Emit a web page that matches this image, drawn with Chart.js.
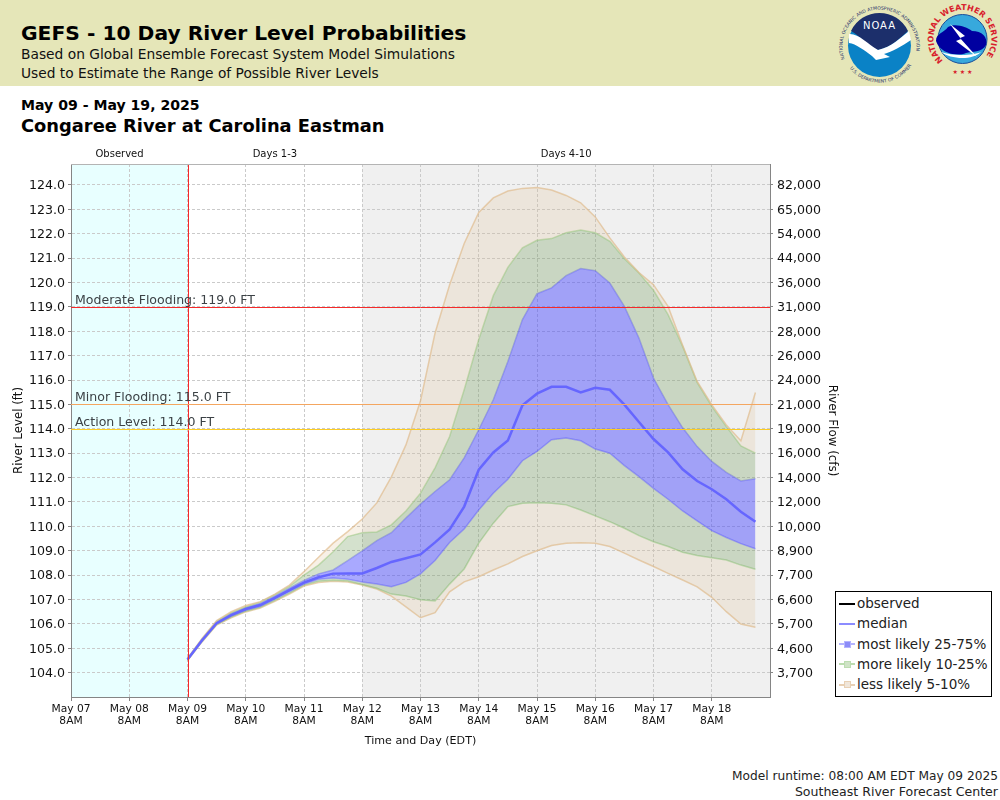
<!DOCTYPE html>
<html lang="en">
<head>
<meta charset="UTF-8">
<title>GEFS River Level Probabilities</title>
<script src="https://cdn.jsdelivr.net/npm/chart.js"></script>
<style>
    html, body { margin: 0; padding: 0; background: #fff; font-family: "DejaVu Sans", sans-serif; color: #000; }
    body { width: 1000px; height: 800px; position: relative; overflow: hidden; }
    #banner { position: absolute; left: 0; top: 0; width: 1000px; height: 86px; background: #e5e6b8; }
    #logos { position: absolute; left: 0; top: 0; }
    .txt { position: absolute; white-space: nowrap; line-height: 20px; }
    #chart { position: absolute; left: 0; top: 0; }
    #legend { position: absolute; left: 835px; top: 591px; width: 155px; height: 103px; border: 1px solid #000; background: #fff; padding-top: 1px; }
    .row { height: 20.3px; line-height: 20.3px; font-size: 13.5px; color: #222; white-space: nowrap; position: relative; padding-left: 21px; }
    .row i { position: absolute; left: 3px; top: 9.5px; width: 16px; height: 2px; }
    .row b { position: absolute; left: 7.5px; top: 7px; width: 5px; height: 5px; border: 1px solid; }
</style>
</head>
<body>
<div id="banner"></div>
<svg id="logos" width="1000" height="86">
    <defs>
        <path id="noaaRing" d="M 845 60 A 37 37 0 1 1 914 60"/>
        <path id="noaaRingLow" d="M 848 66 A 38 38 0 0 0 911 66"/>
        <path id="nwsRing" d="M 943.9 61.2 A 29 29 0 1 1 981.1 61.2"/>
    </defs>
    <circle cx="879.5" cy="45.5" r="31.5" fill="#0a82c6"/>
    <path d="M 851 31 A 31.5 31.5 0 0 1 908 31 C 900 38 892 47 878 50 C 868 46 860 36 851 31 Z" fill="#1c2f6b"/>
    <path d="M 849 34 C 858 33 868 44 878 50 C 892 47 900 38 909 31 L 911 40 C 902 46 892 52 884 54 L 890 57 L 876 60 L 872 56 C 864 50 856 44 849 43 Z" fill="#fff"/>
    <text x="879.5" y="29" font-size="10" fill="#fff" text-anchor="middle" letter-spacing="1">NOAA</text>
    <text font-size="4.6" fill="#25306a"><textPath href="#noaaRing" startOffset="1">NATIONAL OCEANIC AND ATMOSPHERIC ADMINISTRATION</textPath></text>
    <text font-size="4.6" fill="#25306a"><textPath href="#noaaRingLow" startOffset="3">U.S. DEPARTMENT OF COMMERCE</textPath></text>
    <circle cx="962.5" cy="39" r="24.5" fill="#37a9dc" stroke="#1c4f9a" stroke-width="1"/>
    <path d="M 936 41 C 936 33 944 33 948 27 C 956 23 966 27 972 31 C 982 31 988 37 986 45 C 982 53 972 51 966 53 C 956 57 940 53 936 41 Z" fill="#0000a0"/>
    <path d="M 941 52 C 950 59 972 61 981 52 C 972 56 952 56 941 52 Z" fill="#fff"/>
    <path d="M 950 24 L 965 36 L 960 38 L 977 57 L 956 41 L 961 39 Z" fill="#fff"/>
    <text font-size="8" font-weight="bold" fill="#d8202c"><textPath href="#nwsRing" startOffset="1">NATIONAL WEATHER SERVICE</textPath></text>
    <text x="962.5" y="74" font-size="6" fill="#d8202c" text-anchor="middle">★ ★ ★</text>
</svg>
<div class="txt" style="left:21px;top:23px;font-size:20.26px;font-weight:bold;">GEFS - 10 Day River Level Probabilities</div>
<div class="txt" style="left:21px;top:44px;font-size:13.8px;color:#111;">Based on Global Ensemble Forecast System Model Simulations</div>
<div class="txt" style="left:21px;top:63px;font-size:13.76px;color:#111;">Used to Estimate the Range of Possible River Levels</div>
<div class="txt" style="left:21px;top:95px;font-size:14.08px;font-weight:bold;">May 09 - May 19, 2025</div>
<div class="txt" style="left:21px;top:116px;font-size:17.85px;font-weight:bold;">Congaree River at Carolina Eastman</div>
<div class="txt" style="right:2px;top:766px;font-size:12.2px;color:#222;">Model runtime: 08:00 AM EDT May 09 2025</div>
<div class="txt" style="right:2px;top:782px;font-size:12.55px;color:#222;">Southeast River Forecast Center</div>
<canvas id="chart" width="1000" height="800"></canvas>
<div id="legend"></div>
<script>
    // hours after May 07 8AM, one value every 6 hours
    const forecastHours = [48, 54, 60, 66, 72, 78, 84, 90, 96, 102, 108, 114, 120, 126, 132, 138, 144, 150, 156, 162,
        168, 174, 180, 186, 192, 198, 204, 210, 216, 222, 228, 234, 240, 246, 252, 258, 264, 270, 276, 282];

    const median = [104.54, 105.33, 106.03, 106.36, 106.61, 106.77, 107.07, 107.38, 107.69, 107.91,
        108.06, 108.07, 108.07, 108.29, 108.54, 108.69, 108.85, 109.34, 109.87, 110.81,
        112.32, 113.03, 113.52, 114.96, 115.44, 115.72, 115.72, 115.49, 115.68, 115.60,
        114.99, 114.28, 113.58, 113.03, 112.34, 111.86, 111.52, 111.11, 110.60, 110.19];
    const upper75 = [104.56, 105.36, 106.07, 106.42, 106.66, 106.84, 107.14, 107.46, 107.78, 108.05,
        108.21, 108.59, 108.99, 109.41, 109.74, 110.34, 110.91, 111.43, 111.91, 112.81,
        113.96, 115.19, 116.76, 118.48, 119.54, 119.78, 120.28, 120.57, 120.48, 119.98,
        119.02, 117.72, 116.08, 114.99, 114.04, 113.27, 112.66, 112.21, 111.86, 111.95];
    const lower25 = [104.52, 105.30, 106.00, 106.32, 106.56, 106.72, 107.02, 107.32, 107.63, 107.83,
        107.88, 107.83, 107.72, 107.63, 107.52, 107.70, 108.05, 108.60, 109.34, 109.89,
        110.67, 111.36, 111.93, 112.69, 113.07, 113.55, 113.62, 113.51, 113.17, 113.00,
        112.49, 112.04, 111.56, 111.11, 110.63, 110.22, 109.82, 109.54, 109.29, 109.08];
    const upper90 = [104.57, 105.38, 106.10, 106.46, 106.70, 106.89, 107.20, 107.54, 108.00, 108.41,
        108.96, 109.58, 109.74, 109.77, 110.06, 110.63, 111.36, 112.40, 113.68, 115.60,
        117.66, 119.46, 120.62, 121.42, 121.73, 121.80, 122.04, 122.15, 122.04, 121.69,
        120.97, 120.39, 119.68, 118.68, 117.38, 115.89, 114.92, 114.09, 113.30, 113.00];
    const lower10 = [104.51, 105.28, 105.97, 106.28, 106.52, 106.68, 106.96, 107.26, 107.59, 107.75,
        107.79, 107.76, 107.61, 107.46, 107.22, 107.14, 106.99, 106.94, 107.63, 108.25,
        109.31, 110.13, 110.81, 110.95, 110.97, 110.95, 110.88, 110.67, 110.43, 110.19,
        109.92, 109.62, 109.37, 109.17, 108.94, 108.80, 108.71, 108.62, 108.41, 108.24];
    const upper95 = [104.58, 105.40, 106.13, 106.50, 106.75, 106.91, 107.22, 107.59, 108.14, 108.73,
        109.31, 109.78, 110.30, 110.96, 112.03, 113.34, 115.15, 117.93, 119.91, 121.60,
        122.87, 123.47, 123.75, 123.86, 123.90, 123.79, 123.57, 123.27, 122.69, 121.83,
        121.05, 120.41, 119.91, 119.02, 117.43, 115.94, 114.99, 114.16, 113.51, 115.49];
    const lower5 = [104.50, 105.26, 105.95, 106.25, 106.49, 106.65, 106.92, 107.22, 107.55, 107.70,
        107.75, 107.72, 107.59, 107.43, 107.14, 106.70, 106.25, 106.46, 107.31, 107.72,
        107.93, 108.21, 108.46, 108.76, 109.00, 109.21, 109.31, 109.33, 109.31, 109.17,
        108.90, 108.62, 108.35, 108.07, 107.80, 107.52, 107.09, 106.50, 105.99, 105.86];

    const dayLabels = ["May 07", "May 08", "May 09", "May 10", "May 11", "May 12", "May 13", "May 14", "May 15", "May 16", "May 17", "May 18"];
    const hourLabel = "8AM";
    const stageTicks = [104, 105, 106, 107, 108, 109, 110, 111, 112, 113, 114, 115, 116, 117, 118, 119, 120, 121, 122, 123, 124];
    const flowTicks = ["3,700", "4,600", "5,700", "6,600", "7,700", "8,900", "10,000", "12,000", "14,000", "16,000", "19,000",
        "21,000", "24,000", "26,000", "28,000", "31,000", "36,000", "44,000", "54,000", "65,000", "82,000"];

    const floodLevels = [119, 115, 114];
    const floodLabels = ["Moderate Flooding: 119.0 FT", "Minor Flooding: 115.0 FT", "Action Level: 114.0 FT"];
    const floodColors = ["#f52a2a", "#f4a660", "#fccc22"];

    const periodLabels = ["Observed", "Days 1-3", "Days 4-10"];
    const periodHours = [20, 84, 204];
    const forecastStart = 48;
    const longRangeStart = 120;

    const BLUE = "rgba(60,60,255,0.44)", BLUE_LINE = "rgba(100,100,250,0.45)";
    const GREEN = "rgba(100,147,76,0.28)", GREEN_LINE = "rgba(150,200,130,0.55)";
    const TAN = "rgba(222,184,135,0.2)", TAN_LINE = "rgba(222,184,135,0.65)";
    const GRID = "#cacaca", AXIS = "#858585";

    function points(values) {
        return values.map((v, i) => ({ x: forecastHours[i], y: v }));
    }

    function band(label, values, line, fillColor) {
        return {
            label: label,
            data: points(values),
            borderColor: line,
            borderWidth: 1.5,
            pointRadius: 0,
            tension: 0,
            fill: fillColor ? { target: "+1", above: fillColor, below: fillColor } : false
        };
    }

    // backgrounds go under the grid, the flood lines and notes over the bands
    const riverMarks = {
        id: "riverMarks",
        beforeDraw(chart) {
            const { ctx, chartArea: a, scales: { x } } = chart;
            ctx.save();
            ctx.fillStyle = "#e8ffff";
            ctx.fillRect(a.left, a.top, x.getPixelForValue(forecastStart) - a.left, a.height);
            ctx.fillStyle = "#f0f0f0";
            ctx.fillRect(x.getPixelForValue(longRangeStart), a.top, a.right - x.getPixelForValue(longRangeStart), a.height);
            ctx.restore();
        },
        afterDatasetsDraw(chart) {
            const { ctx, chartArea: a, scales: { x, y } } = chart;
            ctx.save();
            ctx.lineWidth = 1;
            const nowX = Math.round(x.getPixelForValue(forecastStart)) + 0.5;
            ctx.strokeStyle = "#f52a2a";
            ctx.beginPath();
            ctx.moveTo(nowX, a.top);
            ctx.lineTo(nowX, a.bottom);
            ctx.stroke();

            ctx.strokeStyle = "#b4b4b4";
            ctx.beginPath();
            ctx.moveTo(a.left, a.top + 0.5);
            ctx.lineTo(a.right, a.top + 0.5);
            ctx.stroke();

            ctx.font = '12.55px "DejaVu Sans"';
            ctx.textBaseline = "alphabetic";
            floodLevels.forEach((level, i) => {
                const py = Math.round(y.getPixelForValue(level)) + 0.5;
                ctx.strokeStyle = floodColors[i];
                ctx.beginPath();
                ctx.moveTo(a.left, py);
                ctx.lineTo(a.right, py);
                ctx.stroke();
                ctx.fillStyle = "#3c4246";
                ctx.fillText(floodLabels[i], a.left + 4, py - 3.5);
            });

            ctx.font = '10px "DejaVu Sans"';
            ctx.fillStyle = "#111";
            ctx.textAlign = "center";
            periodLabels.forEach((t, i) => ctx.fillText(t, x.getPixelForValue(periodHours[i]), 157));
            ctx.restore();
        }
    };

    new Chart(document.getElementById("chart"), {
        type: "line",
        data: {
            datasets: [
                { label: "median", data: points(median), borderColor: "#6666ff", borderWidth: 2.5, pointRadius: 0, tension: 0, fill: false },
                band("less likely 5-10%", upper95, TAN_LINE, TAN),
                band("more likely 10-25%", upper90, GREEN_LINE, GREEN),
                band("most likely 25-75%", upper75, BLUE_LINE, BLUE),
                band("most likely 25-75%", lower25, BLUE_LINE, GREEN),
                band("more likely 10-25%", lower10, GREEN_LINE, TAN),
                band("less likely 5-10%", lower5, TAN_LINE, null)
            ]
        },
        options: {
            responsive: false,
            animation: false,
            devicePixelRatio: 1,
            layout: { padding: { top: 164 } },
            plugins: { legend: { display: false }, tooltip: { enabled: false } },
            scales: {
                x: {
                    type: "linear",
                    min: 0,
                    max: 288,
                    afterFit(s) { s.height = 103; },
                    grid: { color: GRID, tickColor: AXIS, tickLength: 4 },
                    border: { color: AXIS, dash: [3, 2] },
                    ticks: {
                        stepSize: 24,
                        autoSkip: false,
                        maxRotation: 0,
                        padding: 2,
                        color: "#111",
                        font: { family: "DejaVu Sans", size: 10.7, lineHeight: 1.12 },
                        callback: (v, i) => i < dayLabels.length ? [dayLabels[i], hourLabel] : null
                    },
                    title: { display: true, text: "Time and Day (EDT)", color: "#111", font: { family: "DejaVu Sans", size: 11.1 }, padding: { bottom: 52 } }
                },
                y: {
                    position: "left",
                    min: 103,
                    max: 124.86,
                    afterFit(s) { s.width = 71; },
                    grid: { color: GRID, tickColor: AXIS, tickLength: 3 },
                    border: { color: AXIS, dash: [3, 2] },
                    ticks: {
                        stepSize: 1,
                        includeBounds: false,
                        padding: 3,
                        labelOffset: 1,
                        color: "#111",
                        font: { family: "DejaVu Sans", size: 12.6 },
                        callback: v => stageTicks.includes(v) ? v.toFixed(1) : null
                    },
                    title: { display: true, text: "River Level (ft)", color: "#111", font: { family: "DejaVu Sans", size: 11.8 }, padding: { top: 12 } }
                },
                flow: {
                    position: "right",
                    min: 103,
                    max: 124.86,
                    afterFit(s) { s.width = 230; },
                    grid: { drawOnChartArea: false, tickColor: AXIS, tickLength: 3 },
                    border: { color: AXIS },
                    ticks: {
                        stepSize: 1,
                        includeBounds: false,
                        padding: 4,
                        labelOffset: 1,
                        color: "#111",
                        font: { family: "DejaVu Sans", size: 12.6 },
                        callback: v => flowTicks[stageTicks.indexOf(v)]
                    },
                    title: { display: true, text: "River Flow (cfs)", color: "#111", font: { family: "DejaVu Sans", size: 11.9 }, padding: { top: 161 } }
                }
            }
        },
        plugins: [riverMarks]
    });

    const legendRows = [
        { text: "observed", line: "#000", box: null },
        { text: "median", line: "#8c8cff", box: null },
        { text: "most likely 25-75%", line: "#b4b4ff", box: "#8c8cf8" },
        { text: "more likely 10-25%", line: "#bcdcb0", box: "#cfe3c6" },
        { text: "less likely 5-10%", line: "#e8d0b4", box: "#f0e6da" }
    ];
    document.getElementById("legend").innerHTML = legendRows.map(r =>
        '<div class="row"><i style="background:' + r.line + '"></i>' +
        (r.box ? '<b style="background:' + r.box + ';border-color:' + r.line + '"></b>' : "") + r.text + "</div>").join("");
</script>
</body>
</html>
